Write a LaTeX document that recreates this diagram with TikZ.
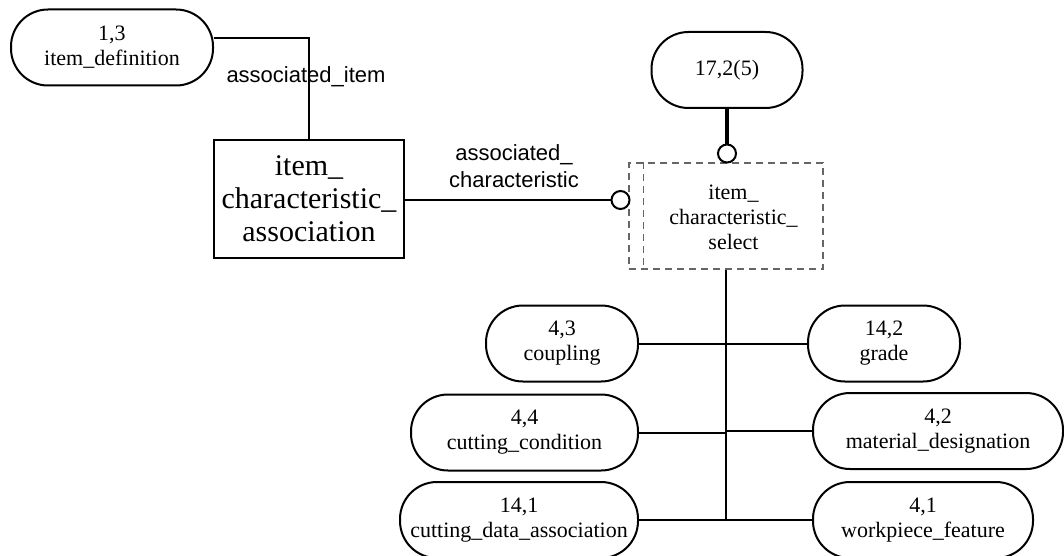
\documentclass[tikz,border=0pt]{standalone}
\usepackage{fontspec}
\setmainfont{Liberation Serif}
\newfontfamily\rolefont{Liberation Sans}
\usepackage{tikz}
\tikzset{
  refnode/.style={rectangle, rounded corners=18.5pt, draw=black, line width=1pt, align=center, minimum height=38pt, inner sep=2pt, font=\fontsize{11}{12.5}\selectfont},
  entbox/.style={rectangle, draw=black, line width=1pt, align=center, minimum width=95pt, minimum height=59pt, font=\fontsize{15}{16.5}\selectfont},
  selbox/.style={rectangle, draw=black!60, line width=0.6pt, dash pattern=on 3.5pt off 2.5pt, minimum width=97pt, minimum height=53pt},
  seltext/.style={align=center, font=\fontsize{11}{12.5}\selectfont},
  rolelabel/.style={align=center, font=\rolefont\fontsize{11}{13.5}\selectfont},
  ring/.style={circle, draw=black, line width=1pt, fill=white, minimum size=9pt, inner sep=0pt},
  link/.style={line width=1pt, draw=black},
  heavylink/.style={line width=2.4pt, draw=black}
}

\begin{document}
\begin{tikzpicture}[x=0.5pt, y=-0.5pt]
  \useasboundingbox (0,0) rectangle (1064,556);
  % entities and references
  \node[refnode, minimum width=101pt] (itemdef) at (112,47.5) {1,3\\item\_definition};
  \node[entbox] (ica) at (309,199) {item\_\\characteristic\_\\association};
  \node[refnode, minimum width=75.5pt] (ref17) at (727,70) {17,2(5)};
  \node[selbox] (sel) at (726,216) {};
  \draw[draw=black!60, line width=0.6pt, dash pattern=on 3.5pt off 2.5pt] ([xshift=7.5pt]sel.north west) -- ([xshift=7.5pt]sel.south west);
  \node[seltext] (selname) at (733.5,217.5) {item\_\\characteristic\_\\select};
  \node[ring] (ringleft) at (620.5,200) {};
  \node[ring] (ringtop) at (727,153.5) {};
  % select members
  \node[refnode, minimum width=76pt] (coupling) at (562,343.5) {4,3\\coupling};
  \node[refnode, minimum width=76pt] (grade) at (884,343.5) {14,2\\grade};
  \node[refnode, minimum width=113.5pt] (cutcond) at (524.5,432.5) {4,4\\cutting\_condition};
  \node[refnode, minimum width=125pt] (matdes) at (938,431) {4,2\\material\_designation};
  \node[refnode, minimum width=119pt] (cutdata) at (519,520) {14,1\\cutting\_data\_association};
  \node[refnode, minimum width=110pt] (workpiece) at (923,520) {4,1\\workpiece\_feature};
  % relations
  \draw[link] (itemdef.east |- 0,38) -| (ica.north);
  \node[rolelabel] (roleitem) at (306,77) {associated\_item};
  \draw[link] (ica.east |- ringleft) -- (ringleft.west);
  \node[rolelabel] (rolechar) at (514,166.5) {associated\_\\characteristic};
  \draw[heavylink] (ref17.south) -- (ringtop.north);
  \draw[link] (sel.south) -- (sel.south |- cutdata);
  \draw[link] (coupling.east) -- (grade.west);
  \draw[link] (cutcond.east) -- (cutcond.east -| sel.south);
  \draw[link] (matdes.west) -- (matdes.west -| sel.south);
  \draw[link] (cutdata.east) -- (workpiece.west);
\end{tikzpicture}
\end{document}
